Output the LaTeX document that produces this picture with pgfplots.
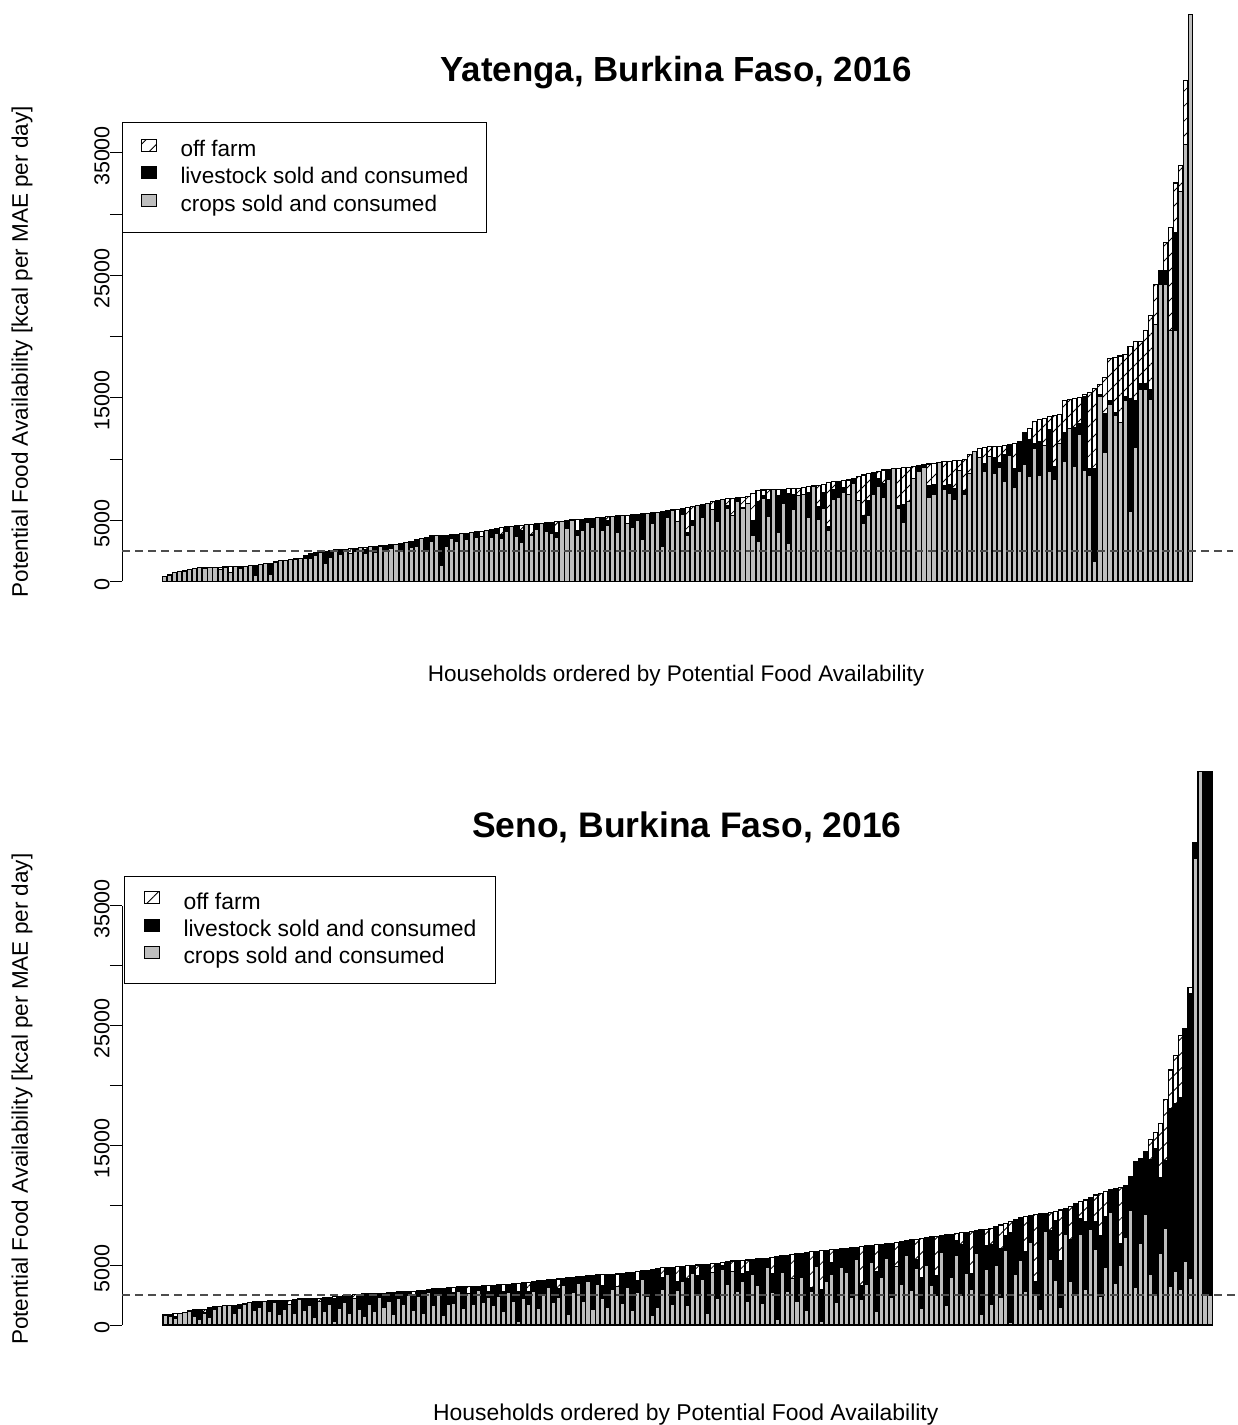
\documentclass[border=0pt]{standalone}
\usepackage{fontspec}
\setmainfont{Liberation Sans}
\usepackage{pgfplots}
\pgfplotsset{compat=1.18}
\usepackage{pgfplotstable}
\usetikzlibrary{patterns.meta}
\definecolor{cropgray}{HTML}{BEBEBE}
\definecolor{dashgray}{HTML}{4D4D4D}

% Yatenga: crops (c), livestock (l), off farm (o), kcal per MAE per day
\pgfplotstableread{
c l o
390 0 0
530 0 0
700 0 20
800 0 0
860 0 0
1000 0 0
1080 0 0
1140 0 0
1100 0 50
1160 0 0
1170 0 0
1010 0 165
1180 0 0
750 0 440
1200 0 0
1100 0 120
1250 0 0
1280 0 0
500 820 0
1380 0 0
1440 0 0
550 950 0
1590 0 0
1680 0 0
1730 0 0
1790 0 0
1840 0 0
1900 0 0
1850 230 0
1900 350 0
2100 230 0
2400 0 0
1500 980 0
2000 560 0
2580 0 0
2200 400 0
2630 0 0
2300 0 360
2450 250 0
2740 0 0
2300 300 200
2830 0 0
2400 460 0
2900 0 0
2500 430 0
2700 290 0
3050 0 0
2600 520 0
3200 0 0
2800 500 0
2900 490 0
3500 0 0
2600 1020 0
3300 420 0
3740 0 0
1350 2410 0
2850 930 0
3500 300 0
3250 600 0
3900 0 0
3400 400 150
4000 0 0
3600 450 0
3700 0 400
4160 0 0
3600 630 0
3900 400 0
3500 300 600
4100 380 0
4520 0 0
3700 860 0
3200 1000 400
4630 0 0
3800 0 870
4250 460 0
4750 0 0
4100 690 0
3900 930 0
3600 370 900
4900 0 0
4300 660 0
5020 0 0
3800 350 900
4200 880 0
4800 320 0
4400 760 0
5200 0 0
4200 1050 0
4600 350 340
5320 0 0
4000 1350 0
5380 0 0
4700 0 710
4400 1040 0
5000 480 0
3400 2110 0
5550 0 0
4700 900 0
5660 0 0
2900 2820 0
5200 580 0
5840 0 0
4900 0 1000
5500 480 0
3800 200 2050
4600 400 1110
6200 0 0
5200 1100 0
6390 0 0
5900 0 600
4900 1700 0
6720 0 0
6000 200 560
5400 0 1400
6500 320 0
6000 0 870
6400 0 530
3800 1200 2200
3300 3200 900
6800 200 470
5300 1400 790
7510 0 0
4000 3000 530
6400 1150 0
3100 4100 370
5900 1200 490
7000 0 610
7100 0 600
5200 2100 450
7800 0 0
5100 1000 1750
6000 1300 650
4200 300 3550
6700 800 650
6900 1300 0
7300 400 550
7100 0 1190
8000 400 0
6600 0 1950
4700 700 3300
5400 1200 2200
7100 1800 0
7800 600 600
6900 1100 1110
8300 860 0
9200 0 0
6000 200 3050
4800 1500 2990
6500 0 2840
8400 0 980
9000 450 0
9300 220 0
6900 900 1800
7100 800 1760
9720 0 0
7500 300 1990
7200 700 1930
6700 900 2270
9100 0 800
7100 300 2530
8800 0 1540
10600 0 0
10100 0 780
9000 600 1350
10200 0 800
8800 1300 920
9300 400 1350
8200 2200 680
10300 850 0
7700 1500 2050
9000 2400 0
9600 2600 0
8600 3000 900
10900 400 1800
8700 2700 1800
11100 0 2200
9000 3400 1050
8300 1100 4150
11300 0 2350
9800 2400 2600
12500 0 2350
9400 3200 2350
12000 900 2150
9100 6000 160
8650 600 6160
1600 7600 6580
15100 200 820
10500 3230 2910
14500 300 3380
13600 200 4530
12950 0 5470
14800 300 3440
5740 9210 4240
10960 3840 4820
15720 460 3440
15720 460 4300
14900 800 6010
21000 0 3230
24300 1090 0
24300 1090 2310
20480 0 8450
20480 7990 4080
31850 0 2150
35700 0 5200
46280 0 0
}\yatenga

% Seno
\pgfplotstableread{
c l o
835 0 0
700 140 0
560 180 240
990 0 0
1010 0 0
1170 0 0
700 550 0
500 780 0
1000 0 300
650 800 0
1300 260 0
1580 0 0
1600 0 0
1600 0 0
1000 610 0
1400 150 120
1750 0 0
1860 0 0
1200 750 0
1500 490 0
1950 50 0
1100 910 0
1900 130 0
900 1150 0
1300 760 0
1700 0 380
1000 1150 0
2100 70 0
1250 950 0
1600 610 0
600 1620 0
2000 0 240
1100 1160 0
1700 610 0
300 1900 160
1400 1000 0
1900 550 0
1000 1490 0
2200 0 320
1300 1260 0
700 1900 0
1700 910 0
1100 1520 0
2300 340 0
1500 1150 0
2000 690 0
900 1830 0
2200 560 0
1700 1090 0
2500 300 0
1200 1310 300
2400 450 0
1000 1900 0
2700 250 0
1600 1410 0
2600 450 0
800 2270 0
1700 1400 0
1800 900 450
2800 400 0
1400 1810 0
2600 0 620
1700 1540 0
2900 350 0
1900 1370 0
2300 500 490
1600 1710 0
2400 940 0
1100 1670 600
2700 700 0
2000 1440 0
300 2500 680
2200 1330 0
1700 1100 780
2800 830 0
1400 2280 0
2600 1120 0
3100 660 0
1900 1900 0
2300 740 800
3300 590 0
900 3040 0
2700 1290 0
3500 540 0
2000 2080 0
3600 510 0
1300 2850 0
3400 780 0
2200 1100 900
1500 2720 0
3000 1240 0
3200 0 1060
1800 2500 0
3100 1250 0
1200 3200 0
2700 1000 750
3800 720 0
2400 2190 0
800 3860 0
1500 3230 0
3000 1000 770
4200 600 0
1700 3140 0
2900 700 1270
3600 1300 0
1600 2300 1040
4300 680 0
2500 1610 900
3800 1240 0
1000 4080 0
4400 0 710
2200 2950 0
4600 400 220
3400 1890 0
4500 0 850
2800 2580 0
3600 700 1110
2000 2430 1000
4200 1280 0
3300 2220 0
1800 3760 0
4800 790 0
2700 1600 1320
500 5190 0
4400 1360 0
2800 3030 0
3900 0 2000
2000 3950 0
4000 2010 0
1200 4870 0
2800 300 3020
4900 1260 0
300 2700 3220
3600 2640 0
4200 1000 1070
1900 4420 0
4800 1570 0
4400 2020 0
2300 4160 0
5500 1010 0
2100 1200 3260
3400 3210 0
5200 1460 0
1100 3400 2200
4000 2740 0
5600 1190 0
2300 4530 0
4900 0 2000
3400 3560 0
5800 1230 0
2900 4200 0
4700 800 1670
1400 2600 3240
5000 2310 0
3300 4080 0
2500 1600 3330
6100 1380 0
1600 5930 0
4000 3580 0
5800 1240 600
2500 4200 1010
4300 3450 0
3000 1300 3500
6000 1870 0
900 7040 0
4600 2000 1400
1700 5000 1380
5000 3200 0
2300 4100 1950
6200 1300 1000
200 7500 930
4200 4570 0
5400 3540 0
2800 3300 3000
6900 2260 0
2600 1000 5620
1300 7970 0
7800 1520 0
5500 2400 1480
3700 5000 800
1500 3900 4210
7600 2150 0
3600 3500 2780
2500 7670 0
7600 1300 1400
3000 5600 1840
8000 2650 0
6300 2300 2260
2400 5100 3500
4800 4300 2040
9400 1880 0
3500 7920 0
5000 1800 4720
7300 4310 0
9600 2790 0
3100 10540 0
6800 7120 0
9200 5300 0
4200 9600 1700
2500 12200 1400
6000 6300 4500
8100 5600 5100
3200 14900 3200
4500 14000 4000
3000 16000 5200
5300 19500 0
3900 23800 500
39000 1300 0
46200 0 0
2500 43700 0
2500 43700 0
}\seno

\pgfplotsset{
  pfa/.style={
    scale only axis, clip=false,
    ymin=0, ymax=35000,
    axis lines*=left,
    x axis line style={draw=none},
    xtick=\empty,
    ytick={0,5000,...,35000},
    yticklabels={0,5000,,15000,,25000,,35000},
    tick align=outside, major tick length=6bp,
    y axis line style={line width=0.5bp},
    every tick/.style={line width=0.5bp, black},
    yticklabel style={rotate=90, anchor=south, inner sep=0pt, xshift=-1.5bp, font=\fontsize{10.8}{12}\selectfont},
    /pgf/number format/assume math mode=true,
    ybar stacked, bar width=0.833,
    reverse legend,
    legend cell align=left,
    legend image code/.code={\draw[##1, line width=0.5bp] (0bp,-0.2bp) rectangle (7.5bp,5.8bp);},
  },
  pfaline/.style={scale only axis, hide axis, clip=false, ymin=0, ymax=35000},
  crops/.style={fill=cropgray, draw=black, line width=0.55bp},
  live/.style={fill=black, draw=black, line width=0.55bp},
  off/.style={fill=white, draw=black, line width=0.55bp,
    postaction={pattern={Lines[angle=45,distance=5.3bp,line width=0.4bp]}}},
}

\begin{document}
\begin{tikzpicture}
\useasboundingbox (0,0) rectangle (619bp,712.5bp);

% ---------------- Yatenga ----------------
\begin{axis}[pfa,
  at={(61bp,421.75bp)}, anchor=south west,
  width=555.5bp, height=214.25bp,
  xmin=-8.5, xmax=212.46,
  legend style={at={(axis description cs:0,1.0723)}, anchor=north west,
    draw=black, line width=0.5bp, fill=white,
    inner xsep=9bp, inner ysep=8bp, row sep=2.4bp, column sep=12bp,
    font=\fontsize{11.3}{13}\selectfont,
    nodes={inner sep=0pt, text height=8.2bp, text depth=2.4bp}},
]
\addplot[crops] table[x expr=\coordindex, y=c] {\yatenga};
\addlegendentry{crops sold and consumed}
\addplot[live] table[x expr=\coordindex, y=l] {\yatenga};
\addlegendentry{livestock sold and consumed}
\addplot[off] table[x expr=\coordindex, y=o] {\yatenga};
\addlegendentry{off farm}
\node[font=\bfseries\fontsize{17.5}{20}\selectfont] at (axis description cs:0.4987,1.187) {Yatenga, Burkina Faso, 2016};
\node[font=\fontsize{11.3}{13}\selectfont] at (axis description cs:0.4987,-0.2205) {Households ordered by Potential Food Availability};
\node[font=\fontsize{11.3}{13}\selectfont, rotate=90] at (axis description cs:-0.09,0.536) {Potential Food Availability [kcal per MAE per day]};
\end{axis}
\begin{axis}[pfaline,
  at={(61bp,421.75bp)}, anchor=south west,
  width=555.5bp, height=214.25bp,
  xmin=-8.5, xmax=212.46]
\addplot[dashgray, line width=0.75bp, dash pattern=on 4bp off 2.5bp] coordinates {(-8.5,2500) (212.46,2500)};
\end{axis}

% ---------------- Seno ----------------
\begin{axis}[pfa,
  at={(61bp,50bp)}, anchor=south west,
  width=566bp, height=209.5bp,
  xmin=-8.66, xmax=218.85,
  legend style={at={(axis description cs:0.0018,1.0716)}, anchor=north west,
    draw=black, line width=0.5bp, fill=white,
    inner xsep=9.5bp, inner ysep=7.5bp, row sep=2.2bp, column sep=12bp,
    font=\fontsize{11.5}{13}\selectfont,
    nodes={inner sep=0pt, text height=8.3bp, text depth=2.4bp}},
]
\addplot[crops] table[x expr=\coordindex, y=c] {\seno};
\addlegendentry{crops sold and consumed}
\addplot[live] table[x expr=\coordindex, y=l] {\seno};
\addlegendentry{livestock sold and consumed}
\addplot[off] table[x expr=\coordindex, y=o] {\seno};
\addlegendentry{off farm}
\node[font=\bfseries\fontsize{17.8}{20}\selectfont] at (axis description cs:0.499,1.188) {Seno, Burkina Faso, 2016};
\node[font=\fontsize{11.5}{13}\selectfont] at (axis description cs:0.498,-0.2148) {Households ordered by Potential Food Availability};
\node[font=\fontsize{11.3}{13}\selectfont, rotate=90] at (axis description cs:-0.0883,0.539) {Potential Food Availability [kcal per MAE per day]};
\end{axis}
\begin{axis}[pfaline,
  at={(61bp,50bp)}, anchor=south west,
  width=566bp, height=209.5bp,
  xmin=-8.66, xmax=218.85]
\addplot[dashgray, line width=0.75bp, dash pattern=on 4bp off 2.5bp] coordinates {(-8.66,2500) (218.85,2500)};
\end{axis}
\end{tikzpicture}
\end{document}
